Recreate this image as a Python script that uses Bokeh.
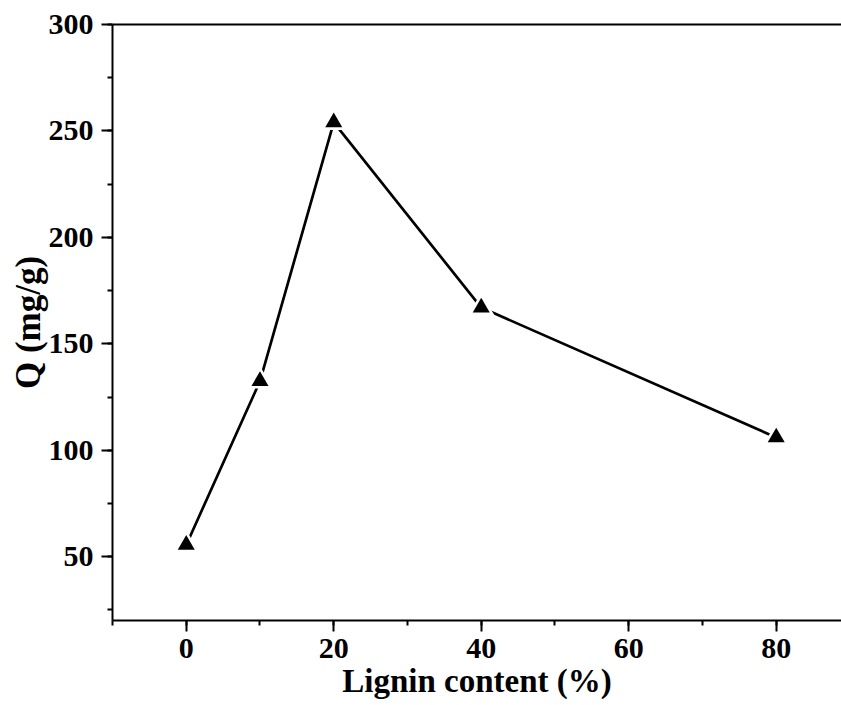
from bokeh.plotting import figure
from bokeh.models import Range1d, SingleIntervalTicker, FixedTicker, LinearAxis
from bokeh.embed import file_html
from bokeh.resources import INLINE

# Data
lignin_content = [0, 10, 20, 40, 80]
q_values = [55.5, 132.5, 254.0, 167.0, 106.0]

x_ticks_interval = 20
y_ticks_interval = 50

FONT = "Liberation Serif"

p = figure(
    width=841, height=705,
    x_range=Range1d(-10, 88.85), y_range=Range1d(20, 300),
    output_backend="svg", toolbar_location=None,
    min_border_left=112, min_border_right=0, min_border_top=24, min_border_bottom=85,
    x_axis_label="Lignin content (%)", y_axis_label="Q (mg/g)",
)
p.outline_line_color = None
p.xgrid.visible = False
p.ygrid.visible = False
p.background_fill_color = "white"
p.border_fill_color = "white"

p.xaxis.ticker = SingleIntervalTicker(interval=x_ticks_interval, num_minor_ticks=2)
p.yaxis.ticker = SingleIntervalTicker(interval=y_ticks_interval, num_minor_ticks=2)

for ax in (p.xaxis[0], p.yaxis[0]):
    ax.axis_line_width = 2
    ax.axis_line_color = "black"
    ax.major_tick_line_width = 2
    ax.minor_tick_line_width = 2
    ax.major_tick_line_color = "black"
    ax.minor_tick_line_color = "black"
    ax.major_tick_in = 0
    ax.major_tick_out = 11
    ax.minor_tick_in = 0
    ax.minor_tick_out = 5
    ax.major_label_text_font = FONT
    ax.major_label_text_font_style = "bold"
    ax.major_label_text_font_size = "30px"
    ax.major_label_text_color = "black"
    ax.axis_label_text_font = FONT
    ax.axis_label_text_font_style = "bold"
    ax.axis_label_text_color = "black"

p.xaxis.axis_label_text_font_size = "33px"
p.yaxis.axis_label_text_font_size = "35px"
p.xaxis.major_label_standoff = 7
p.xaxis.axis_label_standoff = 2
p.yaxis.major_label_standoff = 8
p.yaxis.axis_label_standoff = -2

top = LinearAxis(ticker=FixedTicker(ticks=[]), axis_line_width=2, axis_line_color="black",
                 major_tick_line_color=None, minor_tick_line_color=None,
                 major_label_text_font_size="0px")
p.add_layout(top, "above")

p.line(lignin_content, q_values, line_color="black", line_width=2.7)
p.scatter(lignin_content, q_values, marker="triangle", size=26, fill_color="white", line_color=None)
p.scatter(lignin_content, q_values, marker="triangle", size=17, fill_color="black", line_color=None)

open("out.html", "w").write(file_html(p, INLINE))
